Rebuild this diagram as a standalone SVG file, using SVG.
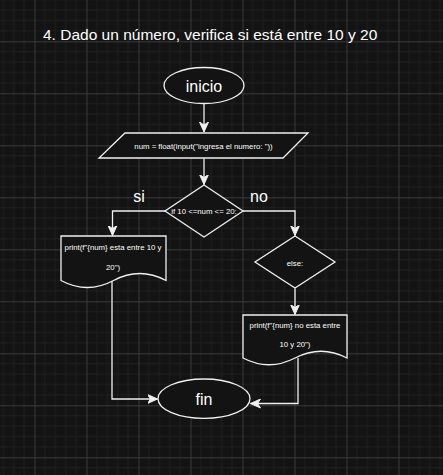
<svg xmlns="http://www.w3.org/2000/svg" width="443" height="475" viewBox="0 0 443 475">
<defs>
<pattern id="grid" patternUnits="userSpaceOnUse" x="34.5" y="41.3" width="52" height="52">
<rect width="52" height="52" fill="#131313"/>
<path d="M10.4 0V52M20.8 0V52M31.2 0V52M41.6 0V52M0 10.4H52M0 20.8H52M0 31.2H52M0 41.6H52" stroke="#1e1e1e" stroke-width="1" fill="none"/>
<path d="M0.5 0V52M0 0.5H52" stroke="#3a3a3a" stroke-width="1" fill="none"/>
</pattern>
<marker id="arr" markerUnits="userSpaceOnUse" markerWidth="12" markerHeight="10" refX="10" refY="5" orient="auto">
<path d="M0,0.5 L10,5 L0,9.5 L3,5 z" fill="#f0f0f0" stroke="#f0f0f0" stroke-width="1"/>
</marker>
<style>
.shape{fill:#131313;stroke:#f0f0f0;stroke-width:1.3}
.edge{fill:none;stroke:#f0f0f0;stroke-width:1.3;marker-end:url(#arr)}
.big{font-family:"Liberation Sans",Arial,sans-serif;font-size:16px;fill:#ffffff;text-anchor:middle}
.small{font-family:"Liberation Sans",Arial,sans-serif;font-size:7.8px;fill:#ffffff;text-anchor:middle}
</style>
</defs>
<rect width="443" height="475" fill="url(#grid)"/>
<text x="43" y="40" font-family="Liberation Sans, Arial, sans-serif" font-size="15.5" fill="#ffffff">4. Dado un número, verifica si está entre 10 y 20</text>
<g id="connectors">
<path class="edge" d="M204 103.5V132"/>
<path class="edge" d="M204 158.5V184.5"/>
<path class="edge" d="M165 211H112.5V235.5"/>
<path class="edge" d="M243 211H295V235.5"/>
<path class="edge" d="M295 288.5V314.5"/>
<path class="edge" d="M112 281V399H157.5"/>
<path class="edge" d="M298 358V403.5H250.5"/>
</g>
<g id="inicio">
<ellipse class="shape" cx="204" cy="85.5" rx="40" ry="18"/>
<text class="big" x="204" y="91.5">inicio</text>
</g>
<g id="input">
<polygon class="shape" points="125,133 308,133 283,158 99,158"/>
<text class="small" x="203.5" y="149">num = float(input("ingresa el numero: "))</text>
</g>
<g id="decision">
<polygon class="shape" points="204,185 243,211 204,237 165,211"/>
<text class="small" x="204" y="214">if 10 &lt;=num &lt;= 20:</text>
</g>
<g id="label-si">
<text class="big" x="139" y="202">si</text>
</g>
<g id="label-no">
<text class="big" x="259" y="202">no</text>
</g>
<g id="print-si">
<path class="shape" d="M61 236H166V280.5Q139.75 266.5 113.5 280.5Q87.25 294.5 61 280.5Z"/>
<text class="small" x="113" y="249.5">print(f"{num} esta entre 10 y</text>
<text class="small" x="113" y="269.5">20")</text>
</g>
<g id="else">
<polygon class="shape" points="295,236 335,262 295,288 255,262"/>
<text class="small" x="295" y="265.5">else:</text>
</g>
<g id="print-no">
<path class="shape" d="M243 315H347V358Q321 344.5 295 358Q269 371.5 243 358Z"/>
<text class="small" x="295" y="328">print(f"{num} no esta entre</text>
<text class="small" x="295" y="347">10 y 20")</text>
</g>
<g id="fin">
<ellipse class="shape" cx="204" cy="398.7" rx="46" ry="19.7"/>
<text class="big" x="204" y="404.5">fin</text>
</g>
</svg>
